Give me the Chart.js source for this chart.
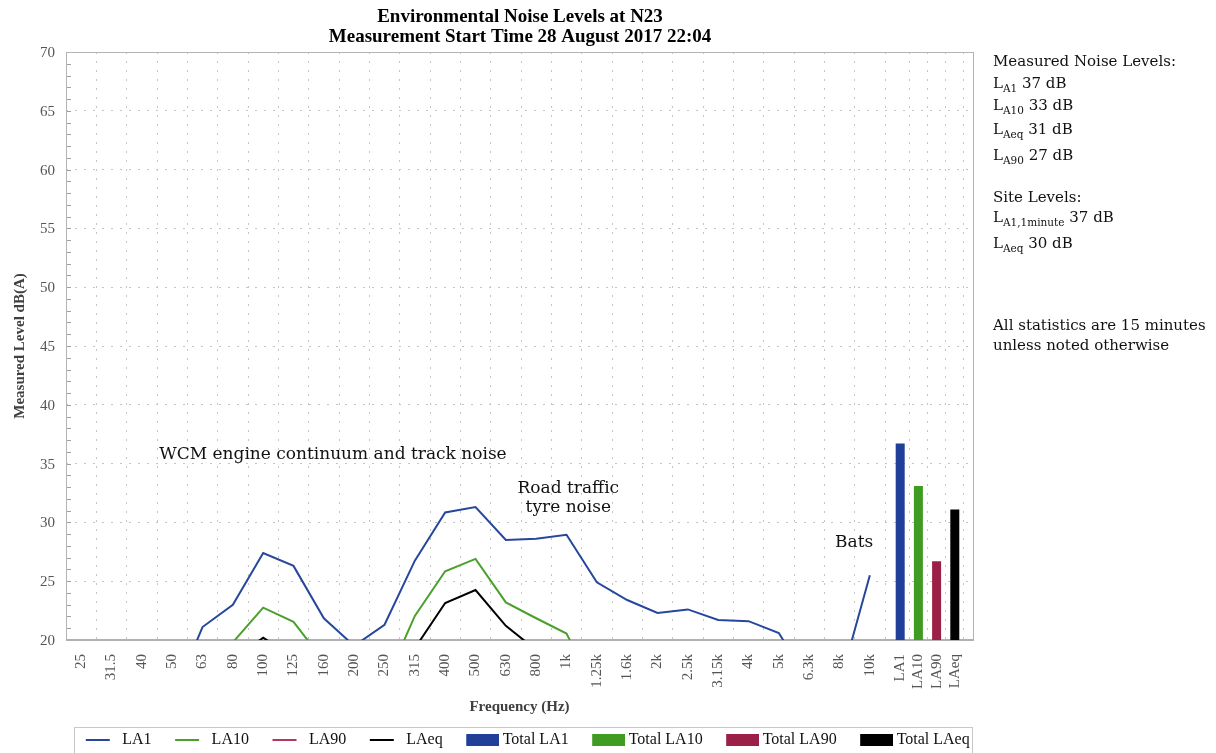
<!DOCTYPE html>
<html>
<head>
<meta charset="utf-8">
<script src="https://cdn.jsdelivr.net/npm/chart.js@4/dist/chart.umd.min.js"></script>
<style>
html,body{margin:0;padding:0;background:#fff;overflow:hidden;width:1216px;height:753px;}
#c{position:absolute;left:0;top:0;}
#panel{position:absolute;left:993px;top:0;width:223px;font-family:'DejaVu Serif',serif;font-size:15px;color:#111;}
#panel div{position:absolute;left:0;white-space:nowrap;line-height:1;}
#panel sub{font-size:10.5px;vertical-align:-4px;line-height:0;}
</style>
</head>
<body>
<canvas id="c" width="1040" height="758"></canvas>
<div id="panel">
  <div style="top:54px">Measured Noise Levels:</div>
  <div style="top:76px">L<sub>A1</sub> 37 dB</div>
  <div style="top:98px">L<sub>A10</sub> 33 dB</div>
  <div style="top:122px">L<sub>Aeq</sub> 31 dB</div>
  <div style="top:148px">L<sub>A90</sub> 27 dB</div>
  <div style="top:190px">Site Levels:</div>
  <div style="top:210px">L<sub>A1,1minute</sub> 37 dB</div>
  <div style="top:236px">L<sub>Aeq</sub> 30 dB</div>
  <div style="top:318px">All statistics are 15 minutes</div>
  <div style="top:338px">unless noted otherwise</div>
</div>
<script>
// ---- data ----
const freqLabels = ['25','31.5','40','50','63','80','100','125','160','200','250','315','400','500','630','800','1k','1.25k','1.6k','2k','2.5k','3.15k','4k','5k','6.3k','8k','10k'];
const la1  = [14.0, 13.5, 14.0, 14.9, 21.1, 23.0, 27.4, 26.3, 21.85, 19.5, 21.3, 26.75, 30.85, 31.3, 28.5, 28.6, 28.95, 24.9, 23.4, 22.3, 22.6, 21.7, 21.6, 20.6, 16.3, 16.2, 25.5];
const la10 = [11.0, 10.5, 11.0, 12.0, 15.0, 19.8, 22.75, 21.55, 18.2, 15.5, 16.2, 22.05, 25.85, 26.9, 23.2, 21.85, 20.55, 15.4, 14.5, 13.8, 13.5, 13.0, 12.5, 12.0, 11.0, 10.5, 12.0];
const la90 = [6.0, 5.5, 6.0, 7.0, 9.5, 13.8, 15.7, 14.0, 10.5, 8.5, 9.5, 14.8, 18.6, 19.5, 16.7, 14.6, 13.0, 8.5, 7.5, 7.0, 7.0, 6.5, 6.0, 5.5, 5.0, 4.5, 6.5];
const laeq = [10.0, 9.5, 10.0, 11.0, 14.0, 18.3, 20.2, 18.5, 15.0, 13.0, 14.0, 19.3, 23.15, 24.25, 21.2, 19.15, 17.5, 13.0, 12.0, 11.5, 11.5, 11.0, 10.5, 10.0, 9.5, 9.0, 11.0];
const totalLabels = ['LA1','LA10','LA90','LAeq'];
const totalValues = [36.7, 33.1, 26.7, 31.1];
const totalPositions = [27, 27.6, 28.2, 28.8];
const yTickValues = [20, 25, 30, 35, 40, 45, 50, 55, 60, 65, 70];

const notes = [
  {text:'WCM engine continuum and track noise', x:8.3, y:35.35},
  {text:'Road traffic', x:16.06, y:32.5},
  {text:'tyre noise', x:16.06, y:30.88},
  {text:'Bats', x:25.48, y:27.9}
];

const colors = {
  la1:'#27479c', la10:'#4aa02c', la90:'#b03a5b', laeq:'#000000',
  tla1:'#1f3f99', tla10:'#3f9b22', tla90:'#9b2048', tlaeq:'#000000'
};

// ---- build ----
const tickPos = freqLabels.map((_, i) => i).concat(totalPositions);
const tickText = freqLabels.concat(totalLabels);
const toXY = arr => arr.map((v, i) => ({x: i, y: v}));

function lineIcon(color){
  const c = document.createElement('canvas'); c.width = 53; c.height = 12;
  const g = c.getContext('2d'); g.strokeStyle = color; g.lineWidth = 2;
  g.beginPath(); g.moveTo(20, 6); g.lineTo(44, 6); g.stroke(); return c;
}
function rectIcon(color){
  const c = document.createElement('canvas'); c.width = 53; c.height = 12;
  const g = c.getContext('2d'); g.fillStyle = color; g.fillRect(20, 0, 33, 12); return c;
}
const icons = [lineIcon(colors.la1), lineIcon(colors.la10), lineIcon(colors.la90), lineIcon(colors.laeq),
               rectIcon(colors.tla1), rectIcon(colors.tla10), rectIcon(colors.tla90), rectIcon(colors.tlaeq)];

function lineDs(label, arr, color){
  return {type:'line', label, data: toXY(arr), borderColor: color, backgroundColor: color,
          borderWidth: 2, pointRadius: 0, pointHoverRadius: 0, tension: 0, fill: false};
}
function barDs(label, idx, color){
  return {type:'bar', label, data: [{x: totalPositions[idx], y: totalValues[idx]}],
          backgroundColor: color, grouped: false, barPercentage: 1, categoryPercentage: 0.5, maxBarThickness: 9};
}

Chart.defaults.font.family = "'Liberation Serif', serif";
Chart.defaults.color = '#555';

const framePlugin = {
  id: 'frame',
  beforeDatasetsDraw(chart){
    const {ctx, chartArea: a, scales: {y}} = chart;
    ctx.save();
    ctx.strokeStyle = '#a0a0a0'; ctx.lineWidth = 1;
    for (let v = y.min + 1; v < y.max; v++) {
      const py = Math.round(y.getPixelForValue(v)) + 0.5;
      ctx.beginPath(); ctx.moveTo(a.left, py); ctx.lineTo(a.left + 5, py); ctx.stroke();
    }
    ctx.strokeStyle = '#b4b4b4'; ctx.lineWidth = 1;
    ctx.strokeRect(Math.round(a.left) + 0.5, Math.round(a.top) + 0.5, Math.round(a.right - a.left), Math.round(a.bottom - a.top));
    ctx.lineWidth = 2; ctx.strokeStyle = '#b0b0b0';
    ctx.beginPath(); ctx.moveTo(a.left, Math.round(a.bottom)); ctx.lineTo(a.right + 1, Math.round(a.bottom)); ctx.stroke();
    ctx.restore();
  }
};
const notesPlugin = {
  id: 'notes',
  afterDatasetsDraw(chart){
    const {ctx, scales: {x, y}} = chart;
    ctx.save();
    ctx.fillStyle = '#111'; ctx.font = '17px "DejaVu Serif"';
    ctx.textAlign = 'center'; ctx.textBaseline = 'alphabetic';
    notes.forEach(n => ctx.fillText(n.text, x.getPixelForValue(n.x), y.getPixelForValue(n.y)));
    ctx.restore();
  }
};
const legendBoxPlugin = {
  id: 'legendBox',
  afterDraw(chart){
    const L = chart.legend;
    if (!L || !L.legendHitBoxes || !L.legendHitBoxes.length) return;
    const hb = L.legendHitBoxes;
    const first = hb[0], last = hb[hb.length - 1];
    const l = first.left + 4, r = last.left + last.width + 3, t = first.top - 5;
    const ctx = chart.ctx;
    ctx.save(); ctx.strokeStyle = '#c8c8c8'; ctx.lineWidth = 1;
    ctx.strokeRect(Math.round(l) + 0.5, Math.round(t) + 0.5, Math.round(r - l), 60);
    ctx.restore();
  }
};

new Chart(document.getElementById('c'), {
  type: 'line',
  data: {
    datasets: [
      lineDs('LA1', la1, colors.la1),
      lineDs('LA10', la10, colors.la10),
      lineDs('LA90', la90, colors.la90),
      lineDs('LAeq', laeq, colors.laeq),
      barDs('Total LA1', 0, colors.tla1),
      barDs('Total LA10', 1, colors.tla10),
      barDs('Total LA90', 2, colors.tla90),
      barDs('Total LAeq', 3, colors.tlaeq)
    ]
  },
  options: {
    responsive: false,
    animation: false,
    layout: {padding: {left: 7, right: 7, top: 0, bottom: 0}},
    plugins: {
      tooltip: {enabled: false},
      title: {
        display: true,
        text: ['Environmental Noise Levels at N23', 'Measurement Start Time 28 August 2017 22:04'],
        color: '#000', font: {size: 19, weight: 'bold', lineHeight: '20px'},
        padding: {top: 7, bottom: 5}
      },
      legend: {
        position: 'bottom',
        labels: {
          usePointStyle: true, pointStyleWidth: 44, boxHeight: 12, padding: 8,
          color: '#111', font: {size: 16},
          generateLabels: chart => {
            const items = Chart.defaults.plugins.legend.labels.generateLabels(chart);
            items.forEach(it => { it.pointStyle = icons[it.datasetIndex]; });
            return items;
          }
        }
      }
    },
    scales: {
      x: {
        type: 'linear', min: -0.5, max: 29.4, offset: false,
        afterBuildTicks: s => { s.ticks = tickPos.map(v => ({value: v})); },
        afterFit: s => { s.height = 84; },
        ticks: {autoSkip: false, minRotation: 90, maxRotation: 90, padding: 14, color: '#555', font: {size: 15},
                callback: (v, i) => tickText[i]},
        grid: {color: '#c4c4c4', lineWidth: 1, drawTicks: false},
        border: {display: false, dash: [2, 7]},
        title: {display: true, text: 'Frequency (Hz)', color: '#404040', font: {size: 15, weight: 'bold'},
                padding: {top: 0, bottom: 8}}
      },
      y: {
        min: 20, max: 70,
        afterBuildTicks: s => { s.ticks = yTickValues.map(v => ({value: v})); },
        afterFit: s => { s.width = 59; },
        ticks: {color: '#555', font: {size: 15}, padding: 11, labelOffset: 1},
        grid: {color: '#c4c4c4', lineWidth: 1, drawTicks: false},
        border: {display: false, dash: [2, 7]},
        title: {display: true, text: 'Measured Level dB(A)', color: '#404040', font: {size: 15, weight: 'bold'},
                padding: {top: 4, bottom: 0}}
      },
      yr: {
        position: 'right', display: true,
        grid: {display: false}, ticks: {display: false}, border: {display: false},
        afterFit: s => { s.width = 60; }
      }
    }
  },
  plugins: [framePlugin, notesPlugin, legendBoxPlugin]
});
</script>
</body>
</html>
